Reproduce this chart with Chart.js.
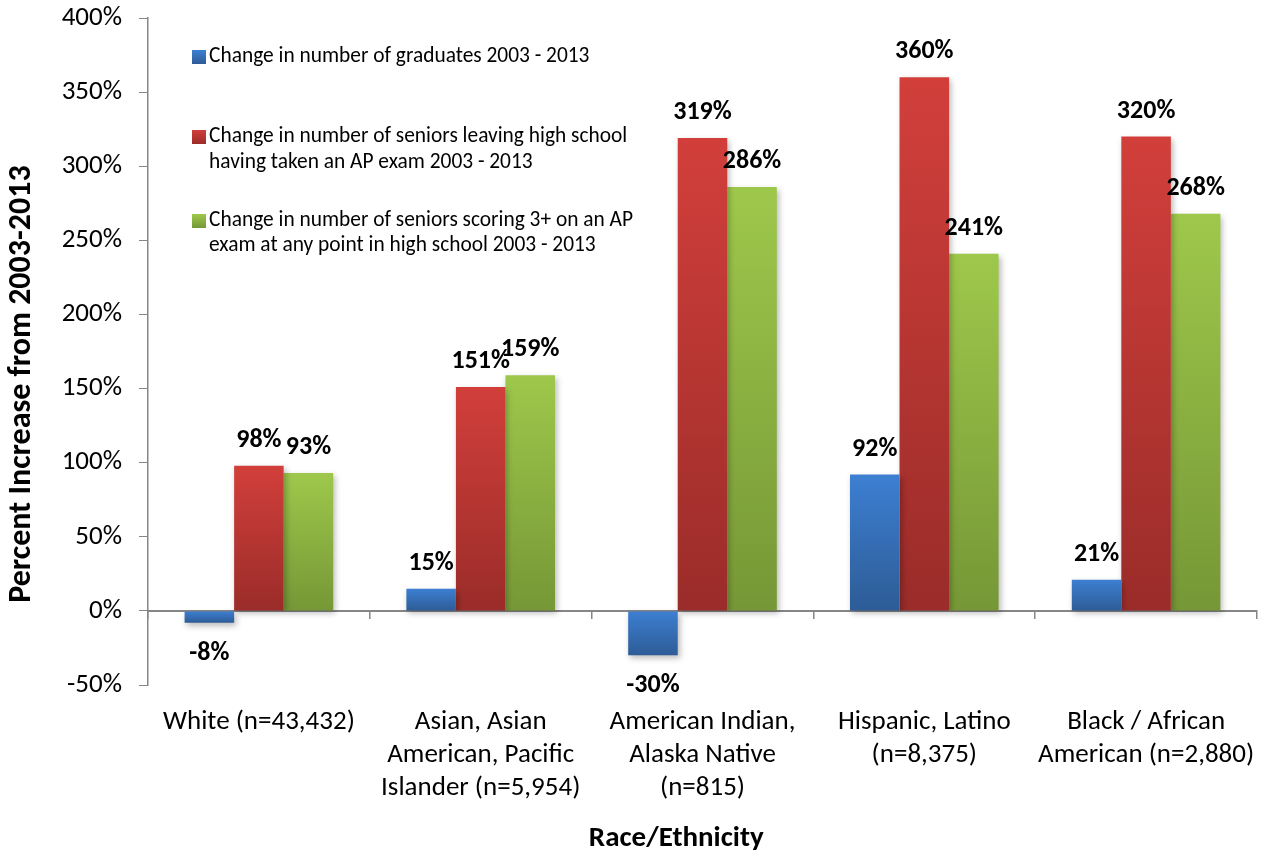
<!DOCTYPE html>
<html>
<head>
<meta charset="utf-8">
<script src="https://cdn.jsdelivr.net/npm/chart.js@4.4.1/dist/chart.umd.min.js"></script>
<style>
  html, body { margin: 0; padding: 0; background: #ffffff; }
  #wrap { width: 1267px; height: 856px; position: relative; }
</style>
</head>
<body>
<div id="wrap"><canvas id="c" width="1267" height="856"></canvas></div>
<script>
const categories = [
  "White (n=43,432)",
  ["Asian, Asian", "American, Pacific", "Islander (n=5,954)"],
  ["American Indian,", "Alaska Native", "(n=815)"],
  ["Hispanic, Latino", "(n=8,375)"],
  ["Black / African", "American (n=2,880)"]
];
const graduatesChange = [-8, 15, -30, 92, 21];
const apTakersChange = [98, 151, 319, 360, 320];
const apScorersChange = [93, 159, 286, 241, 268];
const seriesNames = [
  ["Change in number of graduates 2003 - 2013"],
  ["Change in number of seniors leaving high school", "having taken an AP exam 2003 - 2013"],
  ["Change in number of seniors scoring 3+ on an AP", "exam at any point in high school 2003 - 2013"]
];
const yTicks = { min: -50, max: 400, step: 50 };
const yTitle = 'Percent Increase from 2003-2013';
const xTitle = 'Race/Ethnicity';

const FONT = "Carlito, Lato, 'Open Sans', sans-serif";
const palette = [
  { top: "#3d7fd2", bottom: "#2d5c96" },
  { top: "#d23f3b", bottom: "#9a2c29" },
  { top: "#9ec84b", bottom: "#769736" }
];

function gradFill(idx) {
  return (ctx) => {
    const chart = ctx.chart;
    const ys = chart.scales.y;
    if (!chart.chartArea || !ys || ctx.type !== 'data') return palette[idx].top;
    const v = ctx.parsed ? ctx.parsed.y : ctx.raw;
    const pTop = ys.getPixelForValue(Math.max(v, 0));
    const pBot = ys.getPixelForValue(Math.min(v, 0));
    if (!isFinite(pTop) || !isFinite(pBot) || pTop === pBot) return palette[idx].top;
    const g = chart.ctx.createLinearGradient(0, pTop, 0, pBot);
    g.addColorStop(0, palette[idx].top);
    g.addColorStop(1, palette[idx].bottom);
    return g;
  };
}

const shadowPlugin = {
  id: 'barShadow',
  beforeDatasetsDraw(chart) {
    const c = chart.ctx;
    c.save();
    c.shadowColor = 'rgba(0,0,0,0.28)';
    c.shadowBlur = 6;
    c.shadowOffsetX = 2;
    c.shadowOffsetY = 3;
  },
  afterDatasetsDraw(chart) {
    chart.ctx.restore();
  }
};

const labelPlugin = {
  id: 'valueLabels',
  afterDraw(chart) {
    const c = chart.ctx;
    c.save();
    c.font = "bold 26px " + FONT;
    c.fillStyle = "#000";
    c.textAlign = "center";
    c.textBaseline = "alphabetic";
    chart.data.datasets.forEach((ds, di) => {
      const meta = chart.getDatasetMeta(di);
      meta.data.forEach((el, i) => {
        const v = ds.data[i];
        const txt = v + "%";
        if (v >= 0) {
          c.fillText(txt, el.x, el.y - 19);
        } else {
          c.fillText(txt, el.x, el.y + 37);
        }
      });
    });
    c.restore();
  }
};

const legendPlugin = {
  id: 'insideLegend',
  afterDraw(chart) {
    const c = chart.ctx;
    const lineYs = [[57], [137, 163], [221, 246]];
    const boxX = 192, textX = 209, box = 14;
    c.save();
    c.font = "21.4px " + FONT;
    c.textAlign = "left";
    c.textBaseline = "middle";
    seriesNames.forEach((lines, i) => {
      const y0 = lineYs[i][0];
      const g = c.createLinearGradient(0, y0 - box / 2, 0, y0 + box / 2);
      g.addColorStop(0, palette[i].top);
      g.addColorStop(1, palette[i].bottom);
      c.fillStyle = g;
      c.fillRect(boxX, y0 - box / 2, box, box);
      c.fillStyle = "#000";
      lines.forEach((ln, k) => c.fillText(ln, textX, lineYs[i][k]));
    });
    c.restore();
  }
};

new Chart(document.getElementById('c'), {
  type: 'bar',
  data: {
    labels: categories,
    datasets: [
      { label: seriesNames[0].join(' '), data: graduatesChange, backgroundColor: gradFill(0), xAxisID: 'x', yAxisID: 'y' },
      { label: seriesNames[1].join(' '), data: apTakersChange, backgroundColor: gradFill(1), xAxisID: 'x', yAxisID: 'y' },
      { label: seriesNames[2].join(' '), data: apScorersChange, backgroundColor: gradFill(2), xAxisID: 'x', yAxisID: 'y' }
    ]
  },
  options: {
    responsive: false,
    animation: false,
    devicePixelRatio: 1,
    datasets: { bar: { categoryPercentage: 0.67, barPercentage: 1.0, borderWidth: 0 } },
    layout: { padding: { top: 18, right: 10, left: 0, bottom: 0 } },
    plugins: {
      legend: { display: false },
      tooltip: { enabled: false },
      title: { display: false }
    },
    scales: {
      y: {
        type: 'linear',
        position: 'left',
        min: yTicks.min,
        max: yTicks.max,
        ticks: {
          stepSize: yTicks.step,
          callback: (v) => v + '%',
          font: { family: FONT, size: 27 },
          color: '#000',
          padding: 17
        },
        grid: { drawOnChartArea: false, drawTicks: true, tickLength: 9, color: '#868686', lineWidth: 1 },
        border: { display: true, color: '#868686', width: 1.5 },
        title: {
          display: true,
          text: yTitle + '         ',
          font: { family: FONT, size: 32, weight: 'bold' },
          color: '#000',
          padding: { top: 3, bottom: 0 }
        },
        afterFit(scale) {
          scale.width = 148;
          scale.paddingTop = 0;
          scale.paddingBottom = 0;
        }
      },
      x: {
        type: 'category',
        axis: 'x',
        position: { y: 0 },
        offset: true,
        ticks: { display: false },
        grid: { offset: true, drawOnChartArea: false, drawTicks: true, tickLength: 7, color: '#868686', lineWidth: 1.5 },
        border: { display: true, color: '#868686', width: 2 }
      },
      x2: {
        type: 'category',
        axis: 'x',
        position: 'bottom',
        offset: true,
        grid: { display: false, drawTicks: false },
        border: { display: false },
        ticks: {
          font: { family: FONT, size: 27, lineHeight: 1.22 },
          color: '#000',
          padding: 21,
          maxRotation: 0,
          autoSkip: false
        },
        title: {
          display: true,
          text: xTitle + '        ',
          font: { family: FONT, size: 29, weight: 'bold' },
          color: '#000',
          padding: { top: 0, bottom: 0 }
        },
        afterFit(scale) {
          scale.height = 171;
          scale.paddingLeft = 0;
          scale.paddingRight = 0;
        }
      }
    }
  },
  plugins: [shadowPlugin, labelPlugin, legendPlugin]
});
</script>
</body>
</html>
